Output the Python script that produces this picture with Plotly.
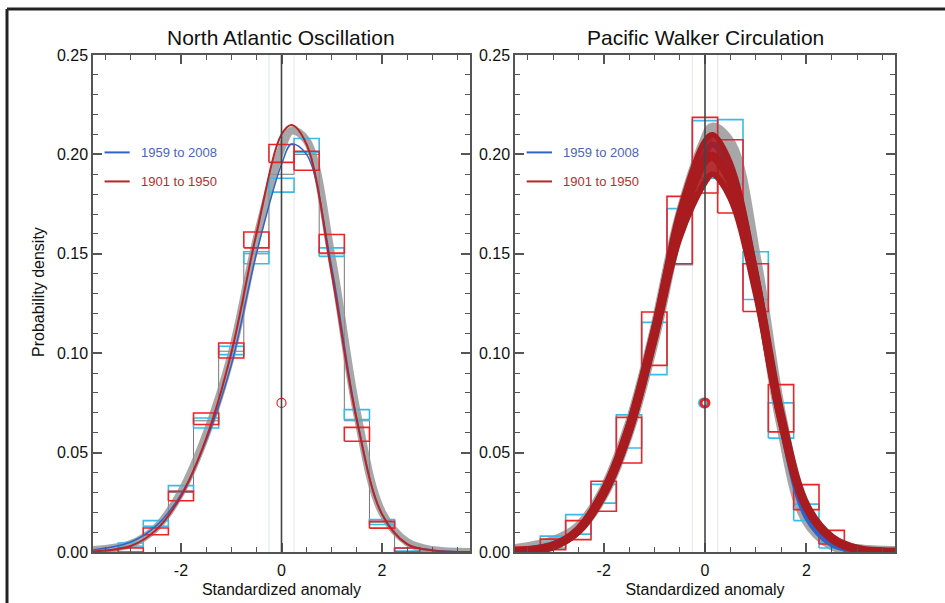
import plotly.graph_objects as go
from plotly.subplots import make_subplots

# ---- data ----
bin_centers_nao = [-3, -2.5, -2, -1.5, -1, -0.5, 0, 0.5, 1, 1.5, 2, 2.5]
nao_cyan_lo = [0.0024, 0.0128, 0.0305, 0.0624, 0.0993, 0.145, 0.181, 0.201, 0.1487, 0.0666, 0.0138, 0.0005]
nao_cyan_hi = [0.0045, 0.0158, 0.0334, 0.0674, 0.1035, 0.151, 0.188, 0.208, 0.153, 0.0716, 0.0163, 0.002]
nao_red_lo = [0.0, 0.0087, 0.0258, 0.0641, 0.0976, 0.153, 0.196, 0.192, 0.1504, 0.0557, 0.012, 0.0]
nao_red_hi = [0.002, 0.0121, 0.0305, 0.0699, 0.1051, 0.161, 0.205, 0.2016, 0.1597, 0.0627, 0.0154, 0.002]

step_x_nao = [-3.5, -3, -2.5, -2, -1.5, -1, -0.5, 0, 0.5, 1, 1.5, 2, 2.5, 3, 3.5]
step_y_nao = [0.0005, 0.003, 0.013, 0.030, 0.066, 0.101, 0.150, 0.190, 0.200, 0.150, 0.066, 0.015, 0.002, 0.0005, 0.0]

nao_x = [-3.75, -3.0, -2.5, -2.0, -1.5, -1.0, -0.5, 0.0, 0.2, 0.5, 1.0, 1.5, 2.0, 2.5, 3.0, 3.75]
nao_red = [0.0003, 0.003, 0.011, 0.028, 0.057, 0.100, 0.160, 0.210, 0.2148, 0.205, 0.140, 0.066, 0.019, 0.004, 0.0008, 0.0]
nao_blue = [0.001, 0.005, 0.013, 0.029, 0.056, 0.094, 0.150, 0.195, 0.2052, 0.200, 0.143, 0.067, 0.019, 0.004, 0.001, 0.0]
nao_grey = [0.001, 0.004, 0.012, 0.030, 0.059, 0.099, 0.157, 0.203, 0.212, 0.207, 0.148, 0.070, 0.020, 0.005, 0.001, 0.0]

bin_centers_pwc = [-3.5, -3, -2.5, -2, -1.5, -1, -0.5, 0, 0.5, 1, 1.5, 2, 2.5, 3]
pwc_cyan_lo = [0.0, 0.002, 0.009, 0.0246, 0.0523, 0.0892, 0.1445, 0.188, 0.185, 0.127, 0.0573, 0.0158, 0.002, 0.0]
pwc_cyan_hi = [0.002, 0.008, 0.0188, 0.034, 0.069, 0.1155, 0.1727, 0.217, 0.2175, 0.151, 0.075, 0.0241, 0.005, 0.001]
pwc_red_lo = [0.0, 0.0012, 0.0062, 0.0205, 0.0448, 0.0939, 0.145, 0.1806, 0.1705, 0.121, 0.0604, 0.0213, 0.004, 0.0]
pwc_red_hi = [0.0025, 0.0065, 0.0158, 0.0356, 0.0677, 0.1207, 0.1789, 0.2186, 0.2074, 0.145, 0.0842, 0.0339, 0.0109, 0.002]

pwc_x = [-3.75, -3.0, -2.5, -2.0, -1.5, -1.0, -0.5, 0.0, 0.15, 0.5, 1.0, 1.5, 2.0, 2.5, 3.0, 3.75]
pwc_red_mid = [0.0003, 0.003, 0.011, 0.030, 0.062, 0.110, 0.165, 0.197, 0.199, 0.187, 0.136, 0.068, 0.023, 0.007, 0.0015, 0.0]
pwc_red_top = [0.0004, 0.0035, 0.012, 0.032, 0.065, 0.114, 0.172, 0.207, 0.210, 0.196, 0.142, 0.071, 0.024, 0.0075, 0.0017, 0.0]
pwc_red_bot = [0.0002, 0.0025, 0.010, 0.028, 0.059, 0.106, 0.158, 0.186, 0.190, 0.178, 0.130, 0.065, 0.022, 0.0065, 0.0013, 0.0]
pwc_blue = [0.0005, 0.004, 0.011, 0.029, 0.062, 0.110, 0.166, 0.200, 0.205, 0.193, 0.140, 0.066, 0.018, 0.004, 0.001, 0.0]
pwc_grey = [0.001, 0.005, 0.012, 0.030, 0.062, 0.109, 0.167, 0.206, 0.213, 0.205, 0.146, 0.067, 0.017, 0.004, 0.001, 0.0]

circle_x = [0.0]
circle_y = [0.075]

legend_labels = ["1959 to 2008", "1901 to 1950"]
legend_y = [0.201, 0.1864]

CYAN = "#3cb9e6"
BOXRED = "#ec2327"
BLUE = "#2f63c9"
DARKRED = "#b8242a"
ENSRED = "#a81b1f"
GREY = "rgba(145,145,145,0.8)"
AXIS = "#555555"
FONT = "Liberation Sans, Arial, sans-serif"


def box_xy(centers, lo, hi, half=0.25):
    xs, ys = [], []
    for c, a, b in zip(centers, lo, hi):
        xs += [c - half, c + half, c + half, c - half, c - half, None]
        ys += [a, a, b, b, a, None]
    return xs, ys


fig = make_subplots(rows=1, cols=2)

# ---- North Atlantic Oscillation ----
fig.add_trace(go.Scatter(x=step_x_nao, y=step_y_nao, mode="lines", line=dict(color="#777777", width=1, shape="hvh")), 1, 1)
fig.add_trace(go.Scatter(x=nao_x, y=nao_grey, mode="lines", line=dict(color=GREY, width=8, shape="spline")), 1, 1)
bx, by = box_xy(bin_centers_nao, nao_cyan_lo, nao_cyan_hi)
fig.add_trace(go.Scatter(x=bx, y=by, mode="lines", line=dict(color=CYAN, width=1.6)), 1, 1)
bx, by = box_xy(bin_centers_nao, nao_red_lo, nao_red_hi)
fig.add_trace(go.Scatter(x=bx, y=by, mode="lines", line=dict(color=BOXRED, width=1.6)), 1, 1)
fig.add_trace(go.Scatter(x=nao_x, y=nao_blue, mode="lines", line=dict(color=BLUE, width=1.5, shape="spline")), 1, 1)
fig.add_trace(go.Scatter(x=nao_x, y=nao_red, mode="lines", line=dict(color=DARKRED, width=2, shape="spline")), 1, 1)
fig.add_trace(go.Scatter(x=circle_x, y=circle_y, mode="markers",
                         marker=dict(symbol="circle-open", size=9, color=BOXRED, line=dict(width=1.2))), 1, 1)

# ---- Pacific Walker Circulation ----
fig.add_trace(go.Scatter(x=pwc_x, y=pwc_grey, mode="lines", line=dict(color=GREY, width=12, shape="spline")), 1, 2)
bx, by = box_xy(bin_centers_pwc, pwc_cyan_lo, pwc_cyan_hi)
fig.add_trace(go.Scatter(x=bx, y=by, mode="lines", line=dict(color=CYAN, width=1.6)), 1, 2)
bx, by = box_xy(bin_centers_pwc, pwc_red_lo, pwc_red_hi)
fig.add_trace(go.Scatter(x=bx, y=by, mode="lines", line=dict(color=BOXRED, width=1.6)), 1, 2)
fig.add_trace(go.Scatter(x=pwc_x, y=pwc_blue, mode="lines", line=dict(color=BLUE, width=6, shape="spline")), 1, 2)
fig.add_trace(go.Scatter(x=pwc_x, y=pwc_red_bot, mode="lines", line=dict(color=ENSRED, width=6, shape="spline")), 1, 2)
fig.add_trace(go.Scatter(x=pwc_x, y=pwc_red_top, mode="lines", fill="tonexty", fillcolor="rgba(168,27,31,0.9)",
                         line=dict(color=ENSRED, width=5, shape="spline")), 1, 2)
fig.add_trace(go.Scatter(x=pwc_x, y=pwc_red_mid, mode="lines", line=dict(color=ENSRED, width=9, shape="spline")), 1, 2)
fig.add_trace(go.Scatter(x=[c - 0.03 for c in circle_x], y=circle_y, mode="markers",
                         marker=dict(symbol="circle-open", size=8, color=CYAN, line=dict(width=3))), 1, 2)
fig.add_trace(go.Scatter(x=circle_x, y=circle_y, mode="markers",
                         marker=dict(symbol="circle-open", size=8, color=BOXRED, line=dict(width=3))), 1, 2)

# legends drawn as text + short lines inside each panel
for col, xr in [(1, "x"), (2, "x2")]:
    yr = "y" if col == 1 else "y2"
    for lab, ly, c, tc in zip(legend_labels, legend_y, [BLUE, DARKRED], ["#4a64b8", "#b0302e"]):
        fig.add_shape(type="line", xref=xr, yref=yr, x0=-3.52, x1=-3.02, y0=ly, y1=ly, line=dict(color=c, width=2))
        fig.add_annotation(xref=xr, yref=yr, x=-2.84, y=ly, text=lab, showarrow=False, xanchor="left",
                           yanchor="middle", font=dict(family=FONT, size=13, color=tc))
    # faint bin guides and zero line
    for gx in [-0.25, 0.25]:
        fig.add_shape(type="line", xref=xr, yref=yr, x0=gx, x1=gx, y0=0, y1=0.25,
                      line=dict(color="rgba(200,215,225,0.6)", width=1), layer="below")
    fig.add_shape(type="line", xref=xr, yref=yr, x0=0, x1=0, y0=0, y1=0.25, line=dict(color="#444444", width=1.6))

axis_common = dict(showline=True, linecolor=AXIS, linewidth=1.5, mirror="allticks", ticks="inside",
                   tickcolor=AXIS, tickwidth=1.5, showgrid=False, zeroline=False, automargin=False,
                   tickfont=dict(family=FONT, size=16, color="#111111"))

fig.update_xaxes(range=[-3.75, 3.75], tickvals=[-2, 0, 2], ticktext=["-2", "0", "2"], ticklen=9,
                 ticklabelstandoff=3,
                 minor=dict(dtick=0.5, tick0=0, ticks="inside", ticklen=5, tickcolor=AXIS, tickwidth=1.2),
                 title=dict(text="Standardized anomaly", font=dict(family=FONT, size=16, color="#111111"), standoff=6),
                 **axis_common)
fig.update_yaxes(range=[0, 0.25], dtick=0.05, tickformat=".2f", ticklen=9,
                 minor=dict(dtick=0.01, ticks="inside", ticklen=5, tickcolor=AXIS, tickwidth=1.2),
                 **axis_common)

fig.update_layout(
    width=945, height=603,
    margin=dict(l=0, r=0, t=0, b=0, autoexpand=False),
    plot_bgcolor="white", paper_bgcolor="white",
    showlegend=False,
    xaxis=dict(domain=[93 / 945, 470 / 945]),
    xaxis2=dict(domain=[515 / 945, 895 / 945]),
    yaxis=dict(domain=[1 - 552 / 603, 1 - 55 / 603]),
    yaxis2=dict(domain=[1 - 552 / 603, 1 - 55 / 603]),
)

# titles and y label
fig.add_annotation(xref="paper", yref="paper", x=281 / 945, y=1 - 37 / 603, text="North Atlantic Oscillation",
                   xanchor="center", yanchor="middle", showarrow=False,
                   font=dict(family=FONT, size=21, color="#111111"))
fig.add_annotation(xref="paper", yref="paper", x=705 / 945, y=1 - 37 / 603, text="Pacific Walker Circulation",
                   xanchor="center", yanchor="middle", showarrow=False,
                   font=dict(family=FONT, size=21, color="#111111"))
fig.add_annotation(xref="paper", yref="paper", x=38 / 945, y=1 - 292 / 603, text="Probability density",
                   xanchor="center", yanchor="middle", textangle=-90, showarrow=False,
                   font=dict(family=FONT, size=16, color="#111111"))

# outer frame (top and left edges visible)
fig.add_shape(type="line", xref="paper", yref="paper", x0=7 / 945, x1=1, y0=1 - 9 / 603, y1=1 - 9 / 603,
              line=dict(color="#222222", width=3))
fig.add_shape(type="line", xref="paper", yref="paper", x0=7 / 945, x1=7 / 945, y0=0, y1=1 - 9 / 603,
              line=dict(color="#222222", width=3))

# page body margin off so the 945x603 figure fills the window exactly
fig.write_html("out.html", config={"displayModeBar": False},
               post_script="document.body.style.margin='0';document.body.style.overflow='hidden';")
